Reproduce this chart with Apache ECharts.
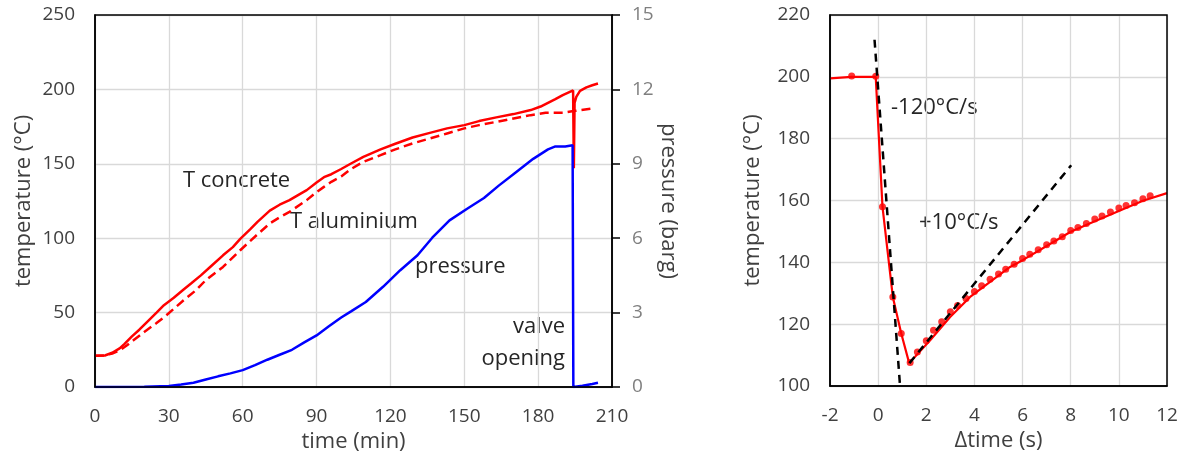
<!DOCTYPE html>
<html>
<head>
<meta charset="utf-8">
<title>valve opening - temperature and pressure</title>
<script src="https://cdn.jsdelivr.net/npm/echarts@6/dist/echarts.min.js"></script>
<style>
  html, body { margin: 0; padding: 0; background: #fff; }
  #chart { width: 1185px; height: 459px; }
</style>
</head>
<body>
<div id="chart"></div>
<script>
// left chart: [time (min), value]
var tConcrete = [[0,21],[4,21.2],[7,23],[10,26],[12,29],[15,34],[18,38.5],[21,43.5],[25,50],[28,55],[32,60],
  [36,65.5],[39,69.5],[43,75],[47,81],[52,88.5],[56,94],[59,99.5],[63,106],[66,111],[71,118.5],[75,122.5],
  [79,125.6],[83,129.5],[86,132.3],[90,137.5],[93,141],[96,143],[100,146.5],[104,150.2],[109,154.7],[116,159.7],
  [122,163.5],[129,167.7],[136,170.8],[143,173.8],[150,176],[156,178.7],[163,181.2],[170,183.4],[177,186.1],
  [181,188.5],[184,191],[187,193.5],[190,196.2],[194.2,199.3],[194.5,147],[194.8,191],[195.5,195],[197,199],
  [199.6,201.4],[202,202.8],[204.3,204]];
var tAluminium = [[0,21],[4,21.2],[7,22.5],[10,24.5],[13,28],[15.6,31.4],[20,37],[25,43],[29,48.2],[36,58.3],
  [41,65],[45,71.8],[52,80.7],[59,91.9],[62,96.5],[65.6,102],[71,109.9],[75,114],[79,117.7],[86,125.6],[90,131],
  [93,134.5],[96,137.9],[100,141.5],[104,146.5],[109,151.3],[116,155.8],[122,159.7],[129,163.7],[136,167],
  [143,170.4],[150,173.8],[156,176],[163,178.2],[170,180.5],[177,182.7],[183,184.3],[190,184.3],[195,185.6],
  [202.4,187.2]];
var pressure = [[0,0],[20,0.01],[30,0.04],[35,0.1],[40,0.17],[45,0.3],[50,0.43],[55,0.55],[60,0.68],[65,0.88],
  [70,1.1],[75,1.3],[80,1.5],[85,1.8],[90,2.08],[95,2.45],[100,2.8],[104,3.05],[110,3.43],[117,4.04],[124,4.71],
  [131,5.31],[137,6.02],[144,6.72],[151,7.18],[158,7.62],[164,8.12],[171,8.66],[178,9.2],[184,9.58],[187,9.7],
  [191,9.7],[194,9.75],[194.3,0],[198,0.05],[202,0.12],[204.3,0.17]];

// right chart: [Δtime (s), temperature]
var fitLine = [[-2,199.5],[-1.1,200],[-0.1,200],[0.18,158],[0.61,128.8],[0.96,117],[1.29,107.4],[2.16,114.8],
  [2.99,122.3],[3.82,128.8],[4.65,133.7],[5.48,138.5],[6,140.7],[7,145.3],[8,149.9],[9,153.3],[10,156.6],
  [11,159.9],[12,162.4]];
var measured = [[-1.1,200.3],[-0.1,200.2],[0.18,158],[0.61,128.8],[0.96,117],[1.33,107.6],[1.63,111],[2.0,114.6],
  [2.3,118],[2.64,120.8],[3.0,124],[3.3,126],[3.65,128.3],[4.0,130.6],[4.3,132.4],[4.65,134.5],[5.0,136.2],
  [5.3,137.8],[5.65,139.4],[6.0,141.2],[6.3,142.6],[6.65,144.1],[7.0,145.7],[7.3,146.9],[7.65,148.3],[8.0,150.3],
  [8.3,151.3],[8.65,152.6],[9.0,154],[9.3,155],[9.65,156.3],[10.0,157.6],[10.3,158.4],[10.65,159.3],[11.0,160.6],
  [11.3,161.5]];
var coolSlope = [[-0.15,212],[0.91,100]];
var heatSlope = [[1.3,107.4],[8.02,171.4]];

var FONT = 'Open Sans';
var tick = { fontFamily: FONT, fontSize: 19, color: '#404040', margin: 20 };
var nameStyle = { fontFamily: FONT, fontSize: 22, color: '#404040' };
var gridLine = { show: true, lineStyle: { color: '#d9d9d9', width: 1.3 } };
var blackLine = { show: true, onZero: false, lineStyle: { color: '#000', width: 1.5 } };
var noteFont = '22px "Open Sans"';

var chart = echarts.init(document.getElementById('chart'));

chart.setOption({
  animation: false,
  backgroundColor: '#fff',
  grid: [
    { left: 95, top: 15, width: 517, height: 372 },
    { left: 830, top: 15, width: 337, height: 371 }
  ],
  xAxis: [
    { type: 'value', gridIndex: 0, min: 0, max: 210, interval: 30,
      name: 'time (min)', nameLocation: 'middle', nameGap: 44, nameTextStyle: nameStyle,
      axisLine: blackLine, axisTick: { show: false }, axisLabel: tick, splitLine: gridLine },
    { type: 'value', gridIndex: 1, min: -2, max: 12, interval: 2,
      name: 'Δtime (s)', nameLocation: 'middle', nameGap: 44, nameTextStyle: nameStyle,
      axisLine: blackLine, axisTick: { show: false }, axisLabel: tick, splitLine: gridLine }
  ],
  yAxis: [
    { type: 'value', gridIndex: 0, min: 0, max: 250, interval: 50,
      name: 'temperature (°C)', nameLocation: 'middle', nameGap: 60, nameTextStyle: nameStyle,
      axisLine: blackLine, axisTick: { show: false }, axisLabel: tick, splitLine: gridLine },
    { type: 'value', gridIndex: 0, position: 'right', min: 0, max: 15, interval: 3,
      name: 'pressure (barg)', nameLocation: 'middle', nameGap: 42, nameRotate: -90, nameTextStyle: nameStyle,
      axisLine: blackLine, axisTick: { show: true, length: 8, lineStyle: { color: '#000', width: 1.5 } },
      axisLabel: { fontFamily: FONT, fontSize: 19, color: '#7f7f7f', margin: 20 }, splitLine: { show: false } },
    { type: 'value', gridIndex: 1, min: 100, max: 220, interval: 20,
      name: 'temperature (°C)', nameLocation: 'middle', nameGap: 66, nameTextStyle: nameStyle,
      axisLine: blackLine, axisTick: { show: false }, axisLabel: tick, splitLine: gridLine }
  ],
  series: [
    { name: 'T concrete', type: 'line', xAxisIndex: 0, yAxisIndex: 0, data: tConcrete, showSymbol: false,
      lineStyle: { color: '#ff0000', width: 2.5 } },
    { name: 'T aluminium', type: 'line', xAxisIndex: 0, yAxisIndex: 0, data: tAluminium, showSymbol: false,
      lineStyle: { color: '#ff0000', width: 2.5, type: [9, 5] } },
    { name: 'pressure', type: 'line', xAxisIndex: 0, yAxisIndex: 1, data: pressure, showSymbol: false,
      lineStyle: { color: '#0000ff', width: 2.5 } },
    { name: 'fit', type: 'line', xAxisIndex: 1, yAxisIndex: 2, data: fitLine, showSymbol: false,
      lineStyle: { color: '#ff0000', width: 2.2 } },
    { name: 'measured', type: 'scatter', xAxisIndex: 1, yAxisIndex: 2, data: measured,
      symbol: 'circle', symbolSize: 7, itemStyle: { color: '#ff0000' } },
    { name: 'cooling', type: 'line', xAxisIndex: 1, yAxisIndex: 2, data: coolSlope, showSymbol: false,
      lineStyle: { color: '#000', width: 2.5, type: [8, 6] } },
    { name: 'heating', type: 'line', xAxisIndex: 1, yAxisIndex: 2, data: heatSlope, showSymbol: false,
      lineStyle: { color: '#000', width: 2.5, type: [8, 6] } }
  ],
  graphic: [
    // black plot frames drawn over the top gridlines
    { type: 'rect', z: 100, shape: { x: 95, y: 15, width: 517, height: 372 },
      style: { fill: null, stroke: '#000', lineWidth: 1.5 } },
    { type: 'rect', z: 100, shape: { x: 830, y: 15, width: 337, height: 371 },
      style: { fill: null, stroke: '#000', lineWidth: 1.5 } },
    { type: 'text', left: 183, top: 170, style: { text: 'T concrete', font: noteFont, fill: '#262626' } },
    { type: 'text', left: 290, top: 211, style: { text: 'T aluminium', font: noteFont, fill: '#262626' } },
    { type: 'text', left: 415, top: 256, style: { text: 'pressure', font: noteFont, fill: '#262626' } },
    { type: 'text', right: 620, top: 316, style: { text: 'valve', font: noteFont, fill: '#262626' } },
    { type: 'text', right: 620, top: 348, style: { text: 'opening', font: noteFont, fill: '#262626' } },
    { type: 'text', left: 891, top: 97, style: { text: '-120°C/s', font: noteFont, fill: '#262626' } },
    { type: 'text', left: 919, top: 212, style: { text: '+10°C/s', font: noteFont, fill: '#262626' } }
  ]
});
</script>
</body>
</html>
